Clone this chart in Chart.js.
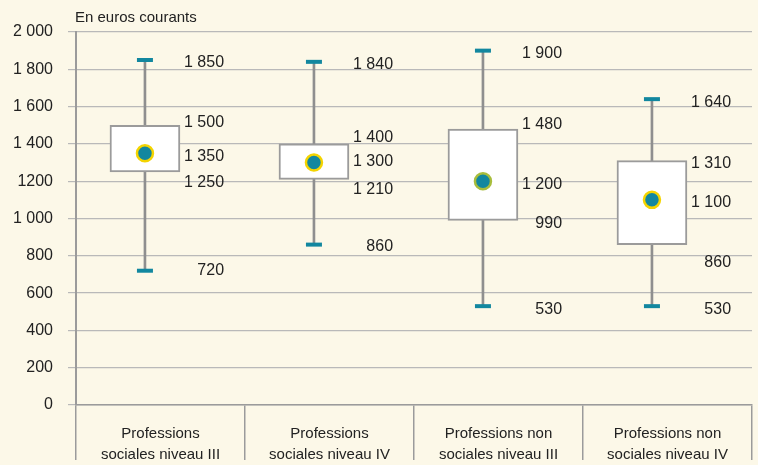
<!DOCTYPE html>
<html>
<head>
<meta charset="utf-8">
<script src="https://cdn.jsdelivr.net/npm/chart.js@4.4.1/dist/chart.umd.min.js"></script>
<style>
  html, body { margin: 0; padding: 0; background: #fcf8e8; }
  #wrap { width: 758px; height: 465px; position: relative; }
</style>
</head>
<body>
<div id="wrap"><canvas id="chart"></canvas></div>
<script>
// Données
const categories = [
  ["Professions", "sociales niveau III"],
  ["Professions", "sociales niveau IV"],
  ["Professions non", "sociales niveau III"],
  ["Professions non", "sociales niveau IV"],
];
const minValues = [720, 860, 530, 530];
const q1Values = [1250, 1210, 990, 860];
const medianValues = [1350, 1300, 1200, 1100];
const q3Values = [1500, 1400, 1480, 1310];
const maxValues = [1850, 1840, 1900, 1640];
const yTickLabels = ["0", "200", "400", "600", "800", "1 000", "1200", "1 400", "1 600", "1 800", "2 000"];
const unitLabel = "En euros courants";

const FONT = "'Liberation Sans', Arial, sans-serif";
const TEAL = "#12879f";
const GREY = "#8f8f8f";

// fmt "1 850"
const fmt = (v) => String(v).replace(/\B(?=(\d{3})+(?!\d))/g, " ");

// boxes sit a bit left of the category centre
const boxX = categories.map((_, i) => i + 0.5 - 0.092);
const labelX = categories.map((_, i) => i + 0.5 + 0.376);

// small pixel nudges so labels don't collide (min, q1, median, q3, max)
const labelNudge = [
  [-3, 8, 0, -6, 0],
  [-1, 7, -4, -9, 0],
  [0, 0, 0, -7, 0],
  [0, 15, 0, 0, 0],
];

const valueLabels = {
  id: "valueLabels",
  afterDatasetsDraw(chart) {
    const { ctx, scales } = chart;
    const xs = scales.xv, ys = scales.y;
    ctx.save();
    ctx.font = "16px " + FONT;
    ctx.fillStyle = "#222";
    ctx.textAlign = "right";
    ctx.textBaseline = "middle";
    categories.forEach((_, i) => {
      const vals = [minValues[i], q1Values[i], medianValues[i], q3Values[i], maxValues[i]];
      vals.forEach((v, k) => {
        const x = xs.getPixelForValue(labelX[i]);
        const y = ys.getPixelForValue(v) + 3 + labelNudge[i][k];
        ctx.fillText(fmt(v), x, y);
      });
    });
    // unit title
    ctx.textAlign = "left";
    ctx.textBaseline = "alphabetic";
    ctx.font = "15px " + FONT;
    ctx.fillText(unitLabel, chart.chartArea.left - 1, 22);
    ctx.restore();
  },
};

const ctx = document.getElementById("chart").getContext("2d");
new Chart(ctx, {
  type: "bar",
  data: {
    labels: categories,
    datasets: [
      {
        // median dots
        type: "line",
        order: 0,
        xAxisID: "xv",
        showLine: false,
        data: boxX.map((x, i) => ({ x, y: medianValues[i] })),
        pointStyle: "circle",
        pointRadius: 8,
        pointBorderWidth: 2.5,
        pointBackgroundColor: TEAL,
        pointBorderColor: ["#f4d400", "#f4d400", "#a8bd3c", "#f4d400"],
      },
      {
        // whisker caps
        type: "line",
        order: 1,
        xAxisID: "xv",
        showLine: false,
        data: boxX.flatMap((x, i) => [{ x, y: minValues[i] }, { x, y: maxValues[i] }]),
        pointStyle: "line",
        pointRadius: 8,
        pointBorderWidth: 4,
        pointBorderColor: TEAL,
      },
      {
        // boxes q1 -> q3
        order: 2,
        xAxisID: "xv",
        grouped: false,
        data: boxX.map((x, i) => ({ x, y: [q1Values[i], q3Values[i]] })),
        backgroundColor: "#ffffff",
        borderColor: "#9b9b9b",
        borderWidth: 2,
        borderSkipped: false,
        barThickness: 70,
      },
      {
        // whiskers min -> max
        order: 3,
        xAxisID: "xv",
        grouped: false,
        data: boxX.map((x, i) => ({ x, y: [minValues[i], maxValues[i]] })),
        backgroundColor: GREY,
        borderWidth: 0,
        barThickness: 2,
      },
    ],
  },
  options: {
    responsive: true,
    maintainAspectRatio: false,
    animation: false,
    events: [],
    layout: { autoPadding: false, padding: { top: 32, right: 6, left: 0, bottom: 0 } },
    plugins: {
      legend: { display: false },
      tooltip: { enabled: false },
    },
    scales: {
      x: {
        type: "category",
        offset: true,
        afterFit: (s) => {
          s.height = 60;
          s.paddingLeft = 0;
          s.paddingRight = 0;
        },
        grid: {
          offset: true,
          drawOnChartArea: false,
          tickLength: 55,
          color: "#9b9b9b",
          lineWidth: 1.5,
        },
        border: { color: "#9b9b9b", width: 1.5 },
        ticks: {
          padding: -37,
          maxRotation: 0,
          color: "#222",
          font: { family: FONT, size: 15, lineHeight: 1.42 },
        },
      },
      xv: {
        type: "linear",
        display: false,
        offset: false,
        grid: { offset: false },
        min: 0,
        max: 4,
      },
      y: {
        min: 0,
        max: 2000,
        afterFit: (s) => { s.width = 76; },
        ticks: {
          stepSize: 200,
          padding: 15,
          color: "#222",
          font: { family: FONT, size: 16 },
          callback: (v) => yTickLabels[Math.round(v / 200)],
        },
        grid: { color: "#b9b9b9", lineWidth: 1.2, tickLength: 8 },
        border: { color: "#9b9b9b", width: 2 },
      },
    },
  },
  plugins: [valueLabels],
});
</script>
</body>
</html>
